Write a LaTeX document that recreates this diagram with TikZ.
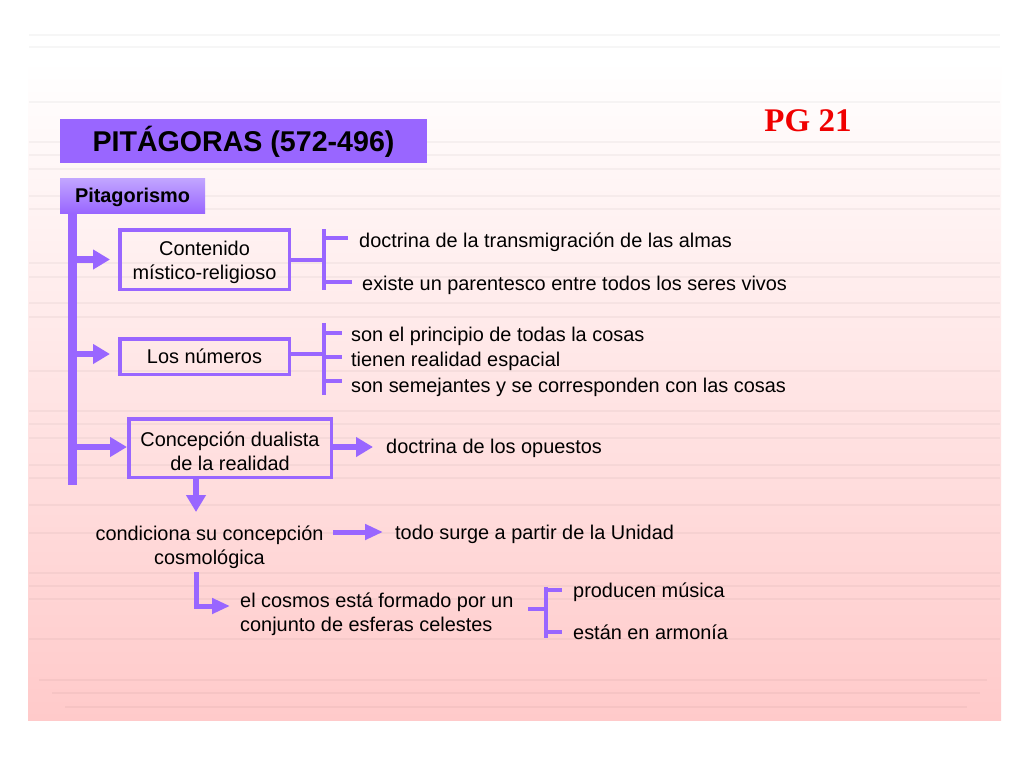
\documentclass[tikz,border=0pt]{standalone}
\usepackage{fontspec}
\setmainfont{Liberation Sans}
\newfontfamily\timesfont{Liberation Serif}
\usetikzlibrary{arrows.meta}
\definecolor{purp}{HTML}{9966FF}
\definecolor{purplight}{HTML}{C2A6FF}
\definecolor{pinkbg}{HTML}{FFCACA}
\definecolor{pgred}{HTML}{F00000}
\newcommand{\fs}{\fontsize{19.9}{24}\selectfont}
\tikzset{
  box/.style={draw=purp, line width=3.5pt, inner sep=0pt},
  txt/.style={anchor=mid west, inner sep=0pt, font=\fs},
  ctxt/.style={inner sep=0pt, align=center, font=\fs},
  brk/.style={draw=purp, line width=3.5pt},
  arr/.style={draw=purp, line width=6.5pt, -{Triangle[length=17pt,width=19pt]}},
  arrthin/.style={draw=purp, line width=5pt, -{Triangle[length=18pt,width=15pt]}},
  bgline/.style={draw=black, opacity=0.035, line width=1.3pt}
}
\begin{document}
\begin{tikzpicture}[x=1pt,y=-1pt]
\useasboundingbox (0,0) rectangle (1024,768);
\fill[white] (0,0) rectangle (1024,768);
% slide background
\shade[top color=white, bottom color=pinkbg] (28,60) rectangle (1001,720);
\foreach \yy in {35,47,102,142,155,169,196,209,263,277,303,317,371,411,424,438,465,478,505,533,573,586,599,639}
  \draw[bgline] (29,\yy) -- (1000,\yy);
\draw[bgline] (39,680) -- (987,680);
\draw[bgline] (52,693) -- (980,693);
\draw[bgline] (65,707) -- (967,707);

% title
\node[fill=purp, minimum width=367pt, minimum height=44pt, inner sep=0pt] (title) at (243.5,141) {};
\node[inner sep=0pt, font=\fontsize{28.6}{32}\selectfont\bfseries] (titlet) at (243.5,142) {PITÁGORAS (572-496)};
\node[font=\timesfont\fontsize{33}{36}\selectfont\bfseries, text=pgred, inner sep=0pt] (pg) at (808,121) {PG 21};

% Pitagorismo
\node[top color=purplight, bottom color=purp, minimum width=145pt, minimum height=35pt, inner sep=0pt] (pit) at (132.5,195.5) {};
\node[inner sep=0pt, font=\fontsize{19.9}{22}\selectfont\bfseries] (pitt) at (132.5,197.5) {Pitagorismo};
\node[fill=purp, minimum width=9pt, minimum height=272pt, inner sep=0pt] (bar) at (72.5,349) {};

% boxes
\node[box, minimum width=169.5pt, minimum height=59.5pt] (c1) at (204.5,259.5) {};
\node[ctxt] (c1t) at (204.5,262) {Contenido\\místico-religioso};
\node[box, minimum width=169.5pt, minimum height=35.5pt] (c2) at (204.5,356.5) {};
\node[ctxt, anchor=mid] (c2t) at (204.5,361) {Los números};
\node[box, minimum width=202.5pt, minimum height=58.5pt] (c3) at (230,448) {};
\node[ctxt] (c3t) at (230,451) {Concepción dualista\\de la realidad};

\draw[arr, shorten >=8pt] (bar.east |- c1) -- (c1.west);
\draw[arr, shorten >=8pt] (bar.east |- 0,354) -- (c2.west |- 0,354);
\draw[arr] (bar.east |- 0,447) -- (c3.west |- 0,447);

% texts, group 1
\node[txt] (t1) at (359,245) {doctrina de la transmigración de las almas};
\node[txt] (t2) at (362,288) {existe un parentesco entre todos los seres vivos};
\coordinate (b1) at (324,260);
\draw[brk] (c1.east |- b1) -- (b1);
\draw[brk] (324,229) -- (324,290);
\draw[brk] (324,238) -- (348,238);
\draw[brk] (324,282) -- (352,282);

% group 2
\node[txt] (t3) at (351,339) {son el principio de todas la cosas};
\node[txt] (t4) at (351,364) {tienen realidad espacial};
\node[txt] (t5) at (351,390) {son semejantes y se corresponden con las cosas};
\coordinate (b2) at (324,354);
\draw[brk] (c2.east |- b2) -- (b2);
\draw[brk] (324,323) -- (324,395);
\draw[brk] (324,333) -- (342,333);
\draw[brk] (324,357) -- (342,357);
\draw[brk] (324,381) -- (342,381);

% group 3
\node[txt] (t6) at (386,451) {doctrina de los opuestos};
\draw[arr] (c3.east |- 0,447) -- (373,447);

\coordinate (dA) at (196,512);
\draw[arr] (c3.south -| dA) -- (dA);

\node[ctxt] (cond) at (209.5,547) {condiciona su concepción\\cosmológica};
\node[txt] (todo) at (395,537) {todo surge a partir de la Unidad};
\draw[arrthin] (333,532) -- (383,532);

\node[txt, align=left, anchor=west] (cosmos) at (240,614) {el cosmos está formado por un\\conjunto de esferas celestes};
\coordinate (lc) at (196,606);
\draw[arrthin] (196,572) -- (lc) -- (230,606);

\node[txt] (t7) at (573,595) {producen música};
\node[txt] (t8) at (573,637) {están en armonía};
\coordinate (b3) at (546,609);
\draw[brk] (528,609) -- (b3);
\draw[brk] (546,587) -- (546,638);
\draw[brk] (546,590) -- (562,590);
\draw[brk] (546,632) -- (562,632);
\end{tikzpicture}
\end{document}
